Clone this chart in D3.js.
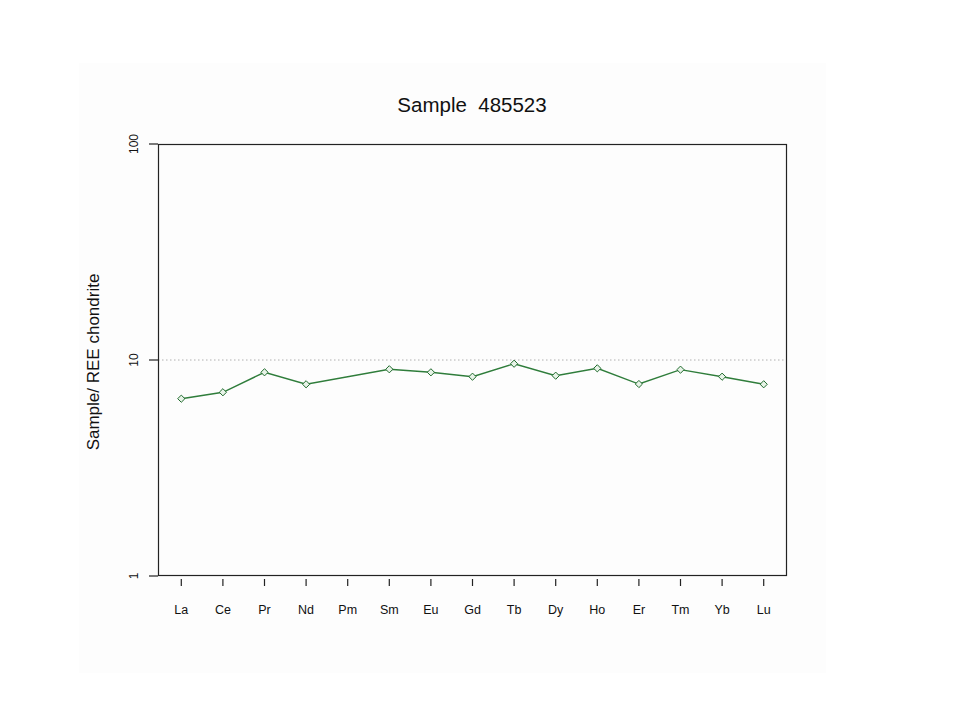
<!DOCTYPE html>
<html><head><meta charset="utf-8">
<script src="https://cdn.jsdelivr.net/npm/d3@7"></script>
<style>body{margin:0;background:#fff}svg{display:block}text{font-family:"Liberation Sans",Arial,sans-serif;fill:#111}</style>
</head><body><svg id="c" width="960" height="720"></svg>
<script>
const elements = ["La","Ce","Pr","Nd","Pm","Sm","Eu","Gd","Tb","Dy","Ho","Er","Tm","Yb","Lu"];
const values = [6.62,7.09,8.77,7.72,null,9.06,8.77,8.37,9.61,8.46,9.15,7.74,9.02,8.37,7.72];
const yTicks = [1,10,100];
const title = "Sample  485523";
const yTitle = "Sample/ REE chondrite";

const svg = d3.select("#c");
svg.append("rect").attr("x",79).attr("y",63).attr("width",747).attr("height",610).attr("fill","#fdfdfd");

const L=158,R=787,T=144,B=576;
const x = d3.scaleLinear().domain([0.44,15.56]).range([L,R]);
const y = d3.scaleLog().domain([1,100]).range([B,T]);

// reference dotted line at 10
svg.append("line").attr("x1",L).attr("x2",R).attr("y1",y(10)).attr("y2",y(10))
  .attr("stroke","#b0b0b0").attr("stroke-dasharray","1.5,2.5").attr("stroke-width",1);

// box
svg.append("rect").attr("x",L+0.5).attr("y",T+0.5).attr("width",R-L-1).attr("height",B-T-1)
  .attr("fill","none").attr("stroke","#222").attr("stroke-width",1.2);

// y axis
const yAx = svg.append("g");
yTicks.forEach(t=>{
  yAx.append("line").attr("x1",L-9).attr("x2",L).attr("y1",y(t)).attr("y2",y(t)).attr("stroke","#222").attr("stroke-width",1.2);
  yAx.append("text").attr("transform",`translate(${L-20},${y(t)}) rotate(-90)`).attr("text-anchor","middle")
    .attr("font-size",12).text(t);
});
// x axis
const xAx = svg.append("g");
elements.forEach((e,i)=>{
  const xp = x(i+1);
  xAx.append("line").attr("x1",xp).attr("x2",xp).attr("y1",B+3).attr("y2",B+10).attr("stroke","#222").attr("stroke-width",1.2);
  xAx.append("text").attr("x",xp).attr("y",614).attr("text-anchor","middle").attr("font-size",12.5).text(e);
});

const pts = values.map((v,i)=>({i:i+1,v})).filter(d=>d.v!=null);
const line = d3.line().x(d=>x(d.i)).y(d=>y(d.v));
svg.append("path").datum(pts).attr("d",line).attr("fill","none").attr("stroke","#2f7d3b").attr("stroke-width",1.4);
svg.selectAll(".pt").data(pts).enter().append("path")
  .attr("transform",d=>`translate(${x(d.i)},${y(d.v)})`)
  .attr("d","M0,-3.6L3.6,0L0,3.6L-3.6,0Z").attr("fill","#e8f3e8").attr("stroke","#1f6a2c").attr("stroke-width",1);

svg.append("text").attr("x",472).attr("y",112).attr("text-anchor","middle").attr("font-size",20.5)
  .style("white-space","pre").text(title);
svg.append("text").attr("transform",`translate(99,362) rotate(-90)`).attr("text-anchor","middle")
  .attr("font-size",17).text(yTitle);
</script></body></html>
